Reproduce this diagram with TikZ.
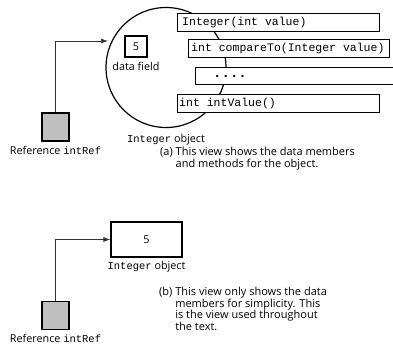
\documentclass[tikz,border=0pt]{standalone}
\usepackage{fontspec}
\setmainfont{Open Sans}
\setmonofont{Liberation Mono}
\usetikzlibrary{positioning}
\usetikzlibrary{arrows.meta}

\begin{document}
\begin{tikzpicture}[x=1pt, y=-1pt]
    % styles for the boxes and labels
    \tikzstyle{method} = [draw=black, line width=1.2pt, rectangle, anchor=north west,
        inner sep=0pt, fill=white]
    \tikzstyle{code} = [anchor=west, inner sep=0pt, font=\fontsize{11.5}{12}\ttfamily]
    \tikzstyle{refbox} = [draw=black, line width=1.2pt, fill=black!25, rectangle,
        minimum width=27pt, minimum height=28pt, inner sep=0pt]
    \tikzstyle{valbox} = [draw=black, line width=1.2pt, rectangle, inner sep=0pt,
        font=\fontsize{10.8}{12}\selectfont]
    \tikzstyle{label} = [font=\fontsize{10.8}{12}\selectfont, inner sep=0pt]
    \tikzstyle{pointer} = [draw=black!80, line width=0.7pt, -{Latex[length=7pt, width=5pt]}]
    \tikzstyle{caption} = [label, align=left, anchor=north west, font=\fontsize{11}{11.5}\selectfont]

    \useasboundingbox (0,0) rectangle (393,346);

    % (a) full view of the object
    \draw[line width=1.2pt] (166,67.5) circle (60);
    \node (val_a) [valbox, minimum width=22pt, minimum height=21pt] at (136,46.5) {5};
    \node (field) [label] at (136,66) {data field};

    \node (ctor) [method, minimum width=202pt, minimum height=18pt] at (177,13) {};
    \node [code] at ([xshift=5pt]ctor.west) {Integer(int value)};
    \node (cmp) [method, minimum width=201pt, minimum height=18pt] at (188,39) {};
    \node [code] at ([xshift=3pt]cmp.west) {int compareTo(Integer value)};
    \node (dots) [method, minimum width=210pt, minimum height=17pt] at (195,67) {};
    \node [code, font=\fontsize{14}{14}\bfseries\ttfamily] at ([xshift=18pt]dots.west) {....};
    \node (getv) [method, minimum width=202pt, minimum height=18pt] at (177,94) {};
    \node [code] at ([xshift=2pt]getv.west) {int intValue()};

    \node (obj_a) [label] at (166,140) {{\fontsize{10.5}{12}\ttfamily Integer} object};
    \node (ref_a) [refbox] at (55.5,127) {};
    \node (name_a) [label, below=4pt of ref_a] {Reference {\fontsize{10.5}{12}\ttfamily intRef}};
    \coordinate (hit_a) at (108,41);
    \draw[pointer] (ref_a.north) |- (hit_a);

    \node (cap_a) [caption] at (160,147)
        {(a) This view shows the data members\\\phantom{(a) }and methods for the object.};

    % (b) short view of the object
    \node (val_b) [valbox, minimum width=71pt, minimum height=35pt] at (146.5,239.5) {5};
    \node (obj_b) [label] at (146.5,267) {{\fontsize{10.5}{12}\ttfamily Integer} object};
    \node (ref_b) [refbox] at (55.5,315.5) {};
    \node (name_b) [label, below=4pt of ref_b] {Reference {\fontsize{10.5}{12}\ttfamily intRef}};
    \draw[pointer] (ref_b.north) |- (val_b.west);

    \node (cap_b) [caption] at (159,287)
        {(b) This view only shows the data\\\phantom{(b) }members for simplicity. This\\\phantom{(b) }is the view used throughout\\\phantom{(b) }the text.};
\end{tikzpicture}
\end{document}
